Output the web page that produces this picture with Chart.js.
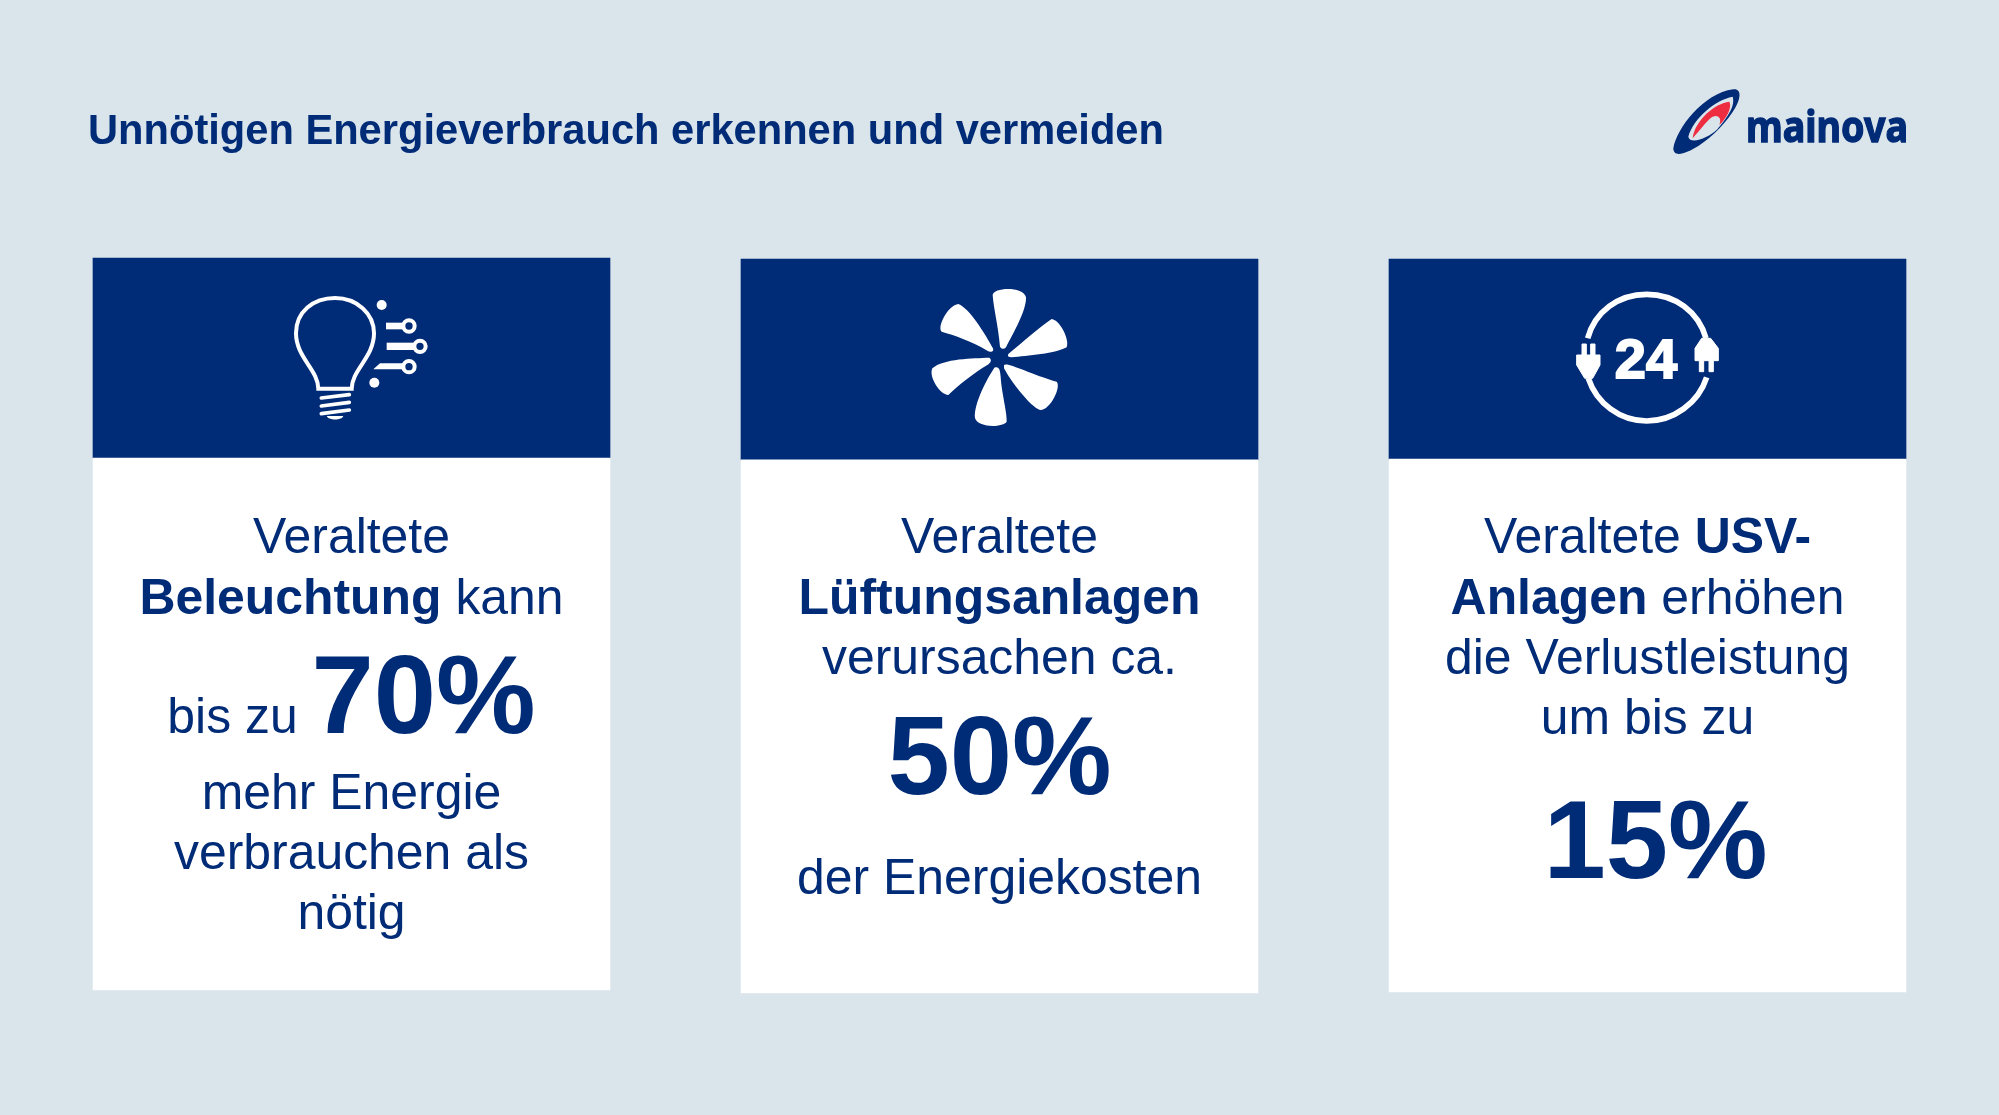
<!DOCTYPE html>
<html lang="de">
<head>
<meta charset="utf-8">
<title>Unnötigen Energieverbrauch erkennen und vermeiden</title>
<script src="https://cdn.jsdelivr.net/npm/chart.js@4/dist/chart.umd.min.js"></script>
<style>
  html, body { margin: 0; padding: 0; background: #dae4eb; }
  body { position: relative; width: 1999px; height: 1115px; overflow: hidden; font-family: "Liberation Sans", Arial, sans-serif; color: #002b77; }
  canvas { position: absolute; left: 0; top: 0; }
  h1 { position: absolute; left: 88px; top: 104px; margin: 0; font-size: 41.65px; line-height: 52px; font-weight: bold; white-space: nowrap; }
  .line { position: absolute; width: 517px; height: 60px; line-height: 60px; font-size: 49.9px; text-align: center; white-space: nowrap; }
  .big { font-size: 112px; font-weight: bold; }
  svg { position: absolute; }
</style>
</head>
<body>
<canvas id="cards" width="1999" height="1115"></canvas>
<h1 id="title"></h1>

<!-- logo -->
<svg style="left:1640px;top:70px" width="300" height="110" viewBox="0 0 900 330">
  <path fill="#002b77" d="M100,235 C110,175 190,70 280,58 C305,55 303,85 285,115 C265,150 220,200 175,228 C140,250 100,265 100,235Z"/>
  <path fill="#dae4eb" d="M145,200 C160,145 225,90 278,80 C288,110 255,150 232,178 C205,205 150,225 145,200Z"/>
  <path fill="#ee2e40" d="M158,205 C165,150 225,100 268,95 C278,115 255,150 238,165 C248,140 228,128 208,148 C188,168 172,190 158,205Z"/>
  <text x="318" y="217" font-family="Noto Sans" font-weight="bold" font-size="130" fill="#002b77" stroke="#002b77" stroke-width="4" textLength="486" lengthAdjust="spacingAndGlyphs">mainova</text>
</svg>

<!-- bulb -->
<svg style="left:260px;top:270px" width="200" height="170" viewBox="0 0 600 510">
  <g fill="none" stroke="#fff" stroke-width="12">
    <path d="M175,356 C175,300 108,262 108,190 C108,125 160,84 225,84 C290,84 342,130 342,190 C342,262 275,300 275,356Z"/>
    <circle cx="447" cy="168" r="17"/><circle cx="480" cy="229" r="17"/><circle cx="447" cy="290" r="17"/>
  </g>
  <g stroke="#fff" stroke-width="11" stroke-linecap="round">
    <path d="M184,384 L268,374 M184,408 L268,397 M184,431 L268,420"/>
  </g>
  <g fill="#fff">
    <circle cx="365" cy="105" r="15"/><circle cx="343" cy="338" r="15"/>
    <rect x="378" y="158" width="54" height="20"/><rect x="380" y="218" width="84" height="22"/>
    <path d="M340,298 L360,280 H432 V298Z"/>
    <path d="M200,438 H250 C246,452 205,452 200,438Z"/>
  </g>
</svg>

<!-- fan -->
<svg style="left:900px;top:270px" width="200" height="170" viewBox="0 0 600 510">
  <g fill="#fff">
    <path d="M300,230 C295,170 280,110 278,75 C280,52 370,48 378,82 C380,120 340,190 318,232 Q308,242 300,230Z"/>
    <path d="M325,252 C370,215 420,170 455,147 C480,150 510,210 500,232 C470,250 380,258 335,262 Q320,262 325,252Z"/>
    <path d="M312,285 C322,275 390,312 470,335 C485,350 450,422 420,420 C390,410 330,330 312,295Z"/>
    <path d="M283,293 C298,288 300,300 302,320 C305,370 322,430 320,455 C310,472 235,475 225,445 C220,400 265,320 283,293Z"/>
    <path d="M268,263 C278,270 270,280 262,285 C220,310 170,350 145,375 C120,375 85,320 97,295 C130,265 220,265 268,263Z"/>
    <path d="M278,233 C285,246 270,248 262,242 C220,215 160,195 125,185 C110,170 145,105 175,102 C210,115 260,200 278,233Z"/>
  </g>
</svg>

<!-- 24h plug -->
<svg style="left:1550px;top:270px" width="200" height="170" viewBox="0 0 600 510">
  <path fill="none" stroke="#fff" stroke-width="17" d="M113,205 C135,125 205,73 290,73 C375,73 445,125 468,205 M115,325 C140,400 210,453 290,453 C370,453 445,400 470,322"/>
  <g fill="#fff" stroke="#fff" stroke-width="3">
    <path d="M80,255 H96 V222 H109 V255 H122 V222 H135 V255 H150 V285 L128,325 H104 L80,285Z"/>
    <path d="M435,235 L455,205 H482 L505,235 V272 H490 V305 H477 V272 H461 V305 H448 V272 H435Z"/>
    <text x="288" y="325" text-anchor="middle" font-size="168" font-weight="bold" font-family="Liberation Sans" stroke-width="6">24</text>
  </g>
</svg>

<script>
const titleText = 'Unnötigen Energieverbrauch erkennen und vermeiden';

const categories = ['Beleuchtung', 'Lüftungsanlagen', 'USV-Anlagen'];
const percentValues = [70, 50, 15];

// card bands on a 0-100 card height scale
const bodyBand = [[0.27, 72.85], [-0.14, 72.6], [0, 72.7]];
const headBand = [[72.85, 100.14], [72.6, 100], [72.7, 100]];

const navy = '#002b77';

new Chart(document.getElementById('cards').getContext('2d'), {
    type: 'bar',
    data: {
        labels: categories,
        datasets: [
            { label: 'Text', data: bodyBand, backgroundColor: '#ffffff', borderWidth: 0, barThickness: 517 },
            { label: 'Kopf', data: headBand, backgroundColor: navy, borderWidth: 0, barThickness: 517 }
        ]
    },
    options: {
        responsive: false,
        animation: false,
        layout: { padding: { left: 27.5, right: 27.5, top: 0, bottom: 0 } },
        plugins: { legend: { display: false }, tooltip: { enabled: false } },
        scales: {
            x: { display: false, stacked: true },
            y: { display: false, min: -16.78, max: 135.34 }
        }
    }
});

// text lines of each card: [markup, centre y, x shift]
const cardLeft = [93, 741, 1389];
const cardLines = [
    [['Veraltete', 536], ['<b>Beleuchtung</b> kann', 597], ['bis zu <span class="big">' + percentValues[0] + '%</span>', 695], ['mehr Energie', 792], ['verbrauchen als', 852], ['nötig', 912]],
    [['Veraltete', 536], ['<b>Lüftungsanlagen</b>', 597], ['verursachen ca.', 657], ['<span class="big">' + percentValues[1] + '%</span>', 756], ['der Energiekosten', 877]],
    [['Veraltete <b>USV-</b>', 536], ['<b>Anlagen</b> erhöhen', 597], ['die Verlustleistung', 657], ['um bis zu', 717], ['<span class="big">' + percentValues[2] + '%</span>', 840, 8]]
];

document.getElementById('title').textContent = titleText;
cardLines.forEach(function (lines, i) {
    lines.forEach(function (line) {
        const el = document.createElement('div');
        el.className = 'line';
        el.style.left = (cardLeft[i] + (line[2] || 0)) + 'px';
        el.style.top = (line[1] - 30) + 'px';
        el.innerHTML = line[0];
        document.body.appendChild(el);
    });
});
</script>
</body>
</html>
